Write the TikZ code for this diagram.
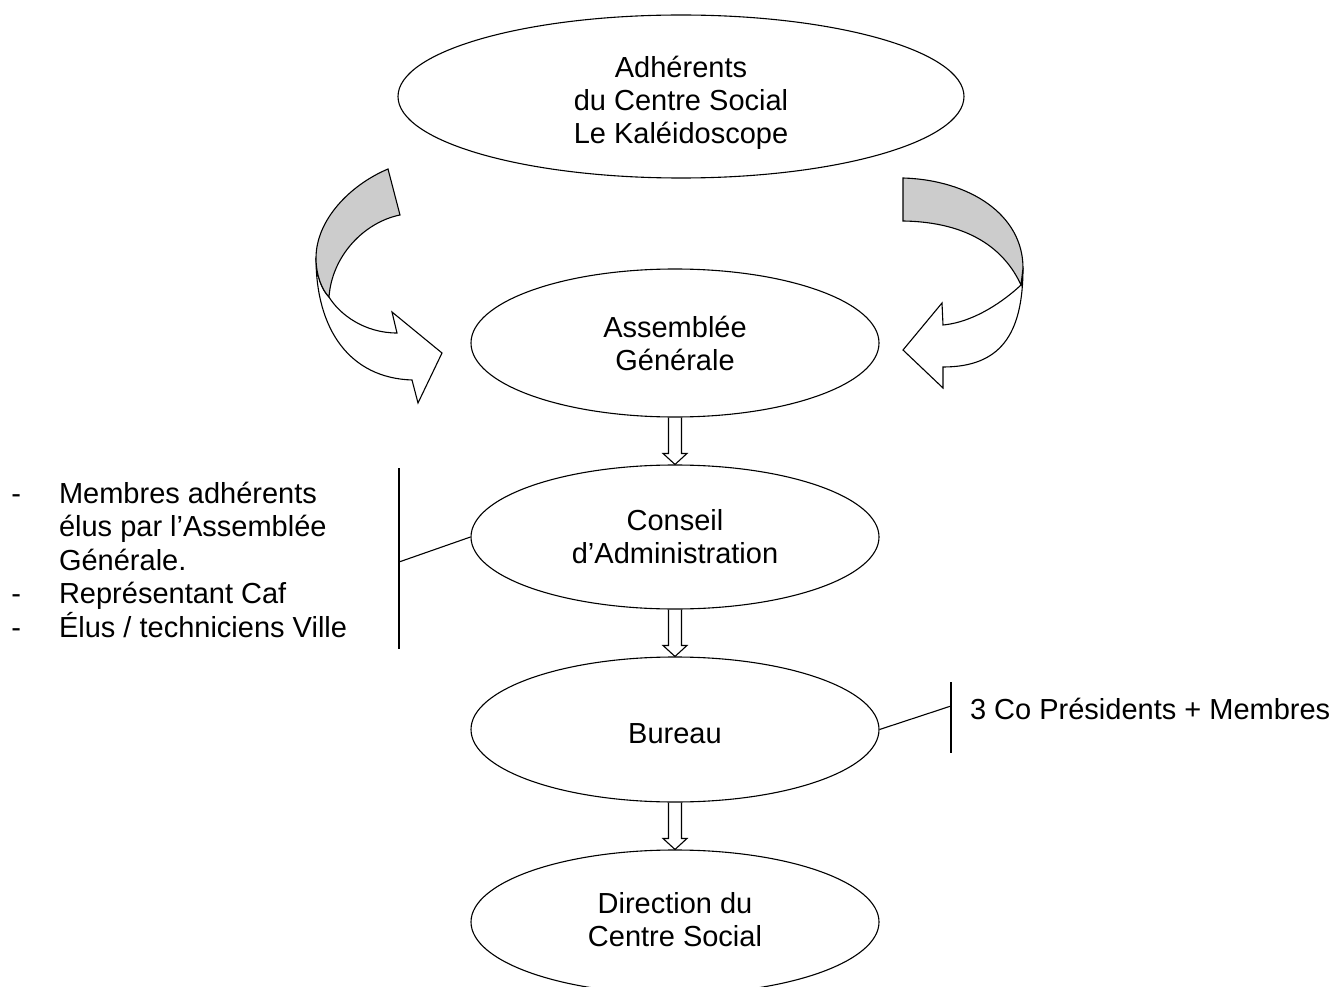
\documentclass[tikz,border=0pt]{standalone}
\usepackage{fontspec}
\setmainfont{Liberation Sans}
\usetikzlibrary{shapes.geometric,calc}
\definecolor{bandgray}{RGB}{204,204,204}
% hollow down arrow from the bottom of one oval to the top of the next
\newcommand\flowarrow[2]{%
  \draw[flow] ($(#1.south)+(-6.5,0)$) -- ($(#2.north)+(-6.5,-11)$)
    -- ($(#2.north)+(-12,-11)$) -- (#2.north) -- ($(#2.north)+(12,-11)$)
    -- ($(#2.north)+(6.5,-11)$) -- ($(#1.south)+(6.5,0)$);}
\begin{document}
\begin{tikzpicture}[x=1pt,y=-1pt,
  line width=1.1pt, line join=miter,
  oval/.style={draw, ellipse, minimum width=408pt, minimum height=146pt,
    inner sep=0pt, align=center, font=\fontsize{29}{33}\selectfont},
  txt/.style={font=\fontsize{29}{33.5}\selectfont, inner sep=0pt, align=left},
  flow/.style={draw},
  band/.style={draw, fill=white},
  bandback/.style={draw, fill=bandgray},
  bracket/.style={draw}
]
\useasboundingbox (0,0) rectangle (1339,987);

% organisation chain
\node[oval, minimum width=566pt, minimum height=163pt] (adh) at (681,96.5)
  {\rule{0pt}{34pt}Adhérents\\du Centre Social\\Le Kaléidoscope};
\node[oval, minimum height=148pt] (ag) at (675,343) {Assemblée\\Générale};
\node[oval, minimum height=144pt] (ca) at (675,537) {Conseil\\d’Administration};
\node[oval, minimum height=145pt] (bu) at (675,729.5) {\rule{0pt}{28pt}Bureau};
\node[oval, minimum height=144pt] (dir) at (675,922)
  {Direction du\\Centre Social\rule[-5pt]{0pt}{5pt}};

\flowarrow{ag}{ca}
\flowarrow{ca}{bu}
\flowarrow{bu}{dir}

% left curved arrow (front face, then the grey back face)
\coordinate (lT1) at (388,169);
\coordinate (lT2) at (400,215);
\coordinate (lL)  at (316,258);
\coordinate (lP)  at (329,297);
\coordinate (lA)  at (397,333);
\coordinate (lB)  at (412,380);
\coordinate (lUp) at (392,312);
\coordinate (lLo) at (418,403);
\coordinate (lTip) at (442,353);
\draw[band] (lL) .. controls (316,330) and (350,378) .. (lB) -- (lLo) -- (lTip)
  -- (lUp) -- (lA) .. controls (365,333) and (340,315) .. (lP)
  .. controls (322,290) and (316,275) .. (lL) -- cycle;
\draw[bandback] (lT1) .. controls (350,185) and (316,220) .. (lL)
  .. controls (316,275) and (322,290) .. (lP)
  .. controls (332,255) and (365,222) .. (lT2) -- cycle;

% right curved arrow
\coordinate (rT1) at (903,178);
\coordinate (rT2) at (903,221);
\coordinate (rR)  at (1023,268);
\coordinate (rP)  at (1021,285);
\coordinate (rA)  at (943,325);
\coordinate (rB)  at (943,367);
\coordinate (rUp) at (942,303);
\coordinate (rLo) at (943,388);
\coordinate (rTip) at (903,350);
\draw[band] (rR) .. controls (1023,335) and (1000,367) .. (rB) -- (rLo) -- (rTip)
  -- (rUp) -- (rA) .. controls (975,322) and (1005,300) .. (rP) -- cycle;
\draw[bandback] (rT1) .. controls (970,180) and (1023,215) .. (rR) -- (rP)
  .. controls (1005,250) and (970,222) .. (rT2) -- cycle;

% members of the board
\coordinate (lbTop) at (399,468);
\coordinate (lbBot) at (399,649);
\coordinate (lbJoin) at (399,562);
\draw[bracket] (lbTop) -- (lbBot);
\draw[bracket] (ca.west) -- (lbJoin);
\node[txt, anchor=base west] (d1) at (10.7,503) {-};
\node[txt, anchor=base west] (d2) at (10.7,603.5) {-};
\node[txt, anchor=base west] (d3) at (10.7,637) {-};
\node[txt, anchor=base west] (members) at (58.5,637)
  {Membres adhérents\\élus par l’Assemblée\\Générale.\\Représentant Caf\\Élus / techniciens Ville};

% members of the bureau
\coordinate (rbTop) at (951,682);
\coordinate (rbBot) at (951,753);
\coordinate (rbJoin) at (951,706);
\draw[bracket] (rbTop) -- (rbBot);
\draw[bracket] (bu.east) -- (rbJoin);
\node[txt, anchor=base west] (pres) at (969.5,719) {3 Co Présidents + Membres};
\end{tikzpicture}
\end{document}
